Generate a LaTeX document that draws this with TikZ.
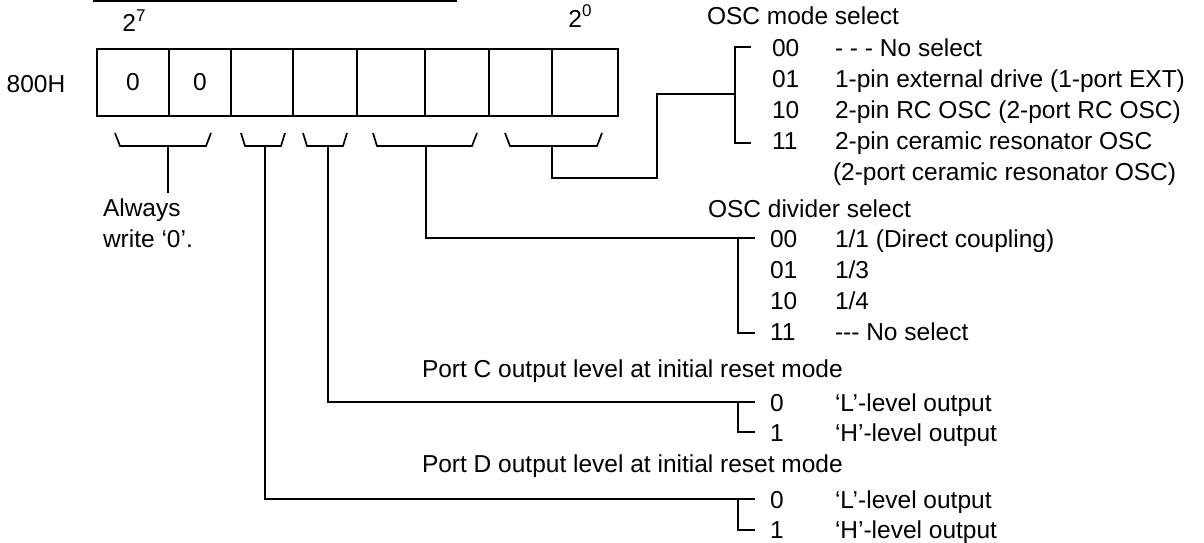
\documentclass[tikz,border=0pt]{standalone}
\usepackage{fontspec}
\setmainfont{Liberation Sans}
\newcommand{\supr}[1]{\raisebox{0.42em}{\fontsize{17}{17}\selectfont #1}}
\begin{document}
\begin{tikzpicture}[x=1pt,y=-1pt,
  every node/.style={font=\fontsize{24.5}{31}\selectfont, inner sep=0pt, outer sep=0pt},
  lbl/.style={anchor=base west},
  wire/.style={line width=1.7pt},
  cell/.style={draw, line width=1.7pt, minimum height=67pt, anchor=north west},
  brk/.style={line width=1.7pt}]
\useasboundingbox (0,0) rectangle (1204,542);
% top bar and weights
\coordinate (tl) at (93,1.2);
\coordinate (tr) at (457,1.2);
\draw[line width=2.4pt] (tl) -- (tr);
\node (w7) at (134,21) {2\supr{7}};
\node (w0) at (580,16) {2\supr{0}};
\node (addr) at (36,84) {800H};
% register cells
\node[cell, minimum width=72pt] (c7) at (97,49) {0};
\node[cell, minimum width=62pt] (c6) at (169,49) {0};
\node[cell, minimum width=62pt] (c5) at (231,49) {};
\node[cell, minimum width=64pt] (c4) at (293,49) {};
\node[cell, minimum width=68pt] (c3) at (357,49) {};
\node[cell, minimum width=64pt] (c2) at (425,49) {};
\node[cell, minimum width=63pt] (c1) at (489,49) {};
\node[cell, minimum width=66pt] (c0) at (552,49) {};
\draw[line width=2.3pt] (c7.north west) rectangle (c0.south east);
% brackets under the cells
\draw[brk] (115,133) -- (120,146) -- (206,146) -- (211,133);
\draw[brk] (241,133) -- (245,146) -- (281,146) -- (285,133);
\draw[brk] (303,133) -- (307,146) -- (343,146) -- (347,133);
\draw[brk] (373,133) -- (377,146) -- (472,146) -- (477,133);
\draw[brk] (505,133) -- (510,146) -- (597,146) -- (602,133);
\coordinate (b1) at (168,146);
\coordinate (b2) at (265,146);
\coordinate (b3) at (328,146);
\coordinate (b4) at (426,146);
\coordinate (b5) at (552,146);
% Always write 0
\node[align=left, anchor=north west] (aw) at (103,199) {Always\\write ‘0’.};
\coordinate (awt) at (168,193);
\draw[wire] (b1) -- (awt);
% OSC mode select
\node[lbl] (tmode) at (707,24) {OSC mode select};
\draw[brk] (751,47) -- (735,47) -- (735,143) -- (751,143);
\coordinate (m5) at (735,94);
\coordinate (k5) at (657,178);
\draw[wire] (b5) |- (k5) |- (m5);
\node[lbl] (m00) at (772,56) {00};
\node[lbl] (m01) at (772,87) {01};
\node[lbl] (m10) at (772,118) {10};
\node[lbl] (m11) at (772,149) {11};
\node[lbl] (d00) at (835,56) {- - - No select};
\node[lbl] (d01) at (835,87) {1-pin external drive (1-port EXT)};
\node[lbl] (d10) at (835,118) {2-pin RC OSC (2-port RC OSC)};
\node[lbl] (d11) at (835,149) {2-pin ceramic resonator OSC};
\node[lbl] (d11b) at (833,180) {(2-port ceramic resonator OSC)};
% OSC divider select
\node[lbl] (tdiv) at (708,217) {OSC divider select};
\coordinate (v0) at (755,238);
\draw[wire] (b4) |- (v0);
\draw[brk] (738,238) -- (738,333) -- (755,333);
\node[lbl] (v00) at (770,247) {00};
\node[lbl] (v01) at (770,278) {01};
\node[lbl] (v10) at (770,309) {10};
\node[lbl] (v11) at (770,340) {11};
\node[lbl] (e00) at (835,247) {1/1 (Direct coupling)};
\node[lbl] (e01) at (835,278) {1/3};
\node[lbl] (e10) at (835,309) {1/4};
\node[lbl] (e11) at (835,340) {-{}-{}- No select};
% Port C
\node[lbl] (tpc) at (422,377) {Port C output level at initial reset mode};
\coordinate (pc0) at (755,402);
\draw[wire] (b3) |- (pc0);
\draw[brk] (738,402) -- (738,432) -- (755,432);
\node[lbl] (pc0t) at (770,411) {0};
\node[lbl] (pc1t) at (770,441) {1};
\node[lbl] (pcL) at (835,411) {‘L’-level output};
\node[lbl] (pcH) at (835,441) {‘H’-level output};
% Port D
\node[lbl] (tpd) at (422,472) {Port D output level at initial reset mode};
\coordinate (pd0) at (755,499);
\draw[wire] (b2) |- (pd0);
\draw[brk] (738,499) -- (738,530) -- (755,530);
\node[lbl] (pd0t) at (770,508) {0};
\node[lbl] (pd1t) at (770,538) {1};
\node[lbl] (pdL) at (835,508) {‘L’-level output};
\node[lbl] (pdH) at (835,538) {‘H’-level output};
\end{tikzpicture}
\end{document}
